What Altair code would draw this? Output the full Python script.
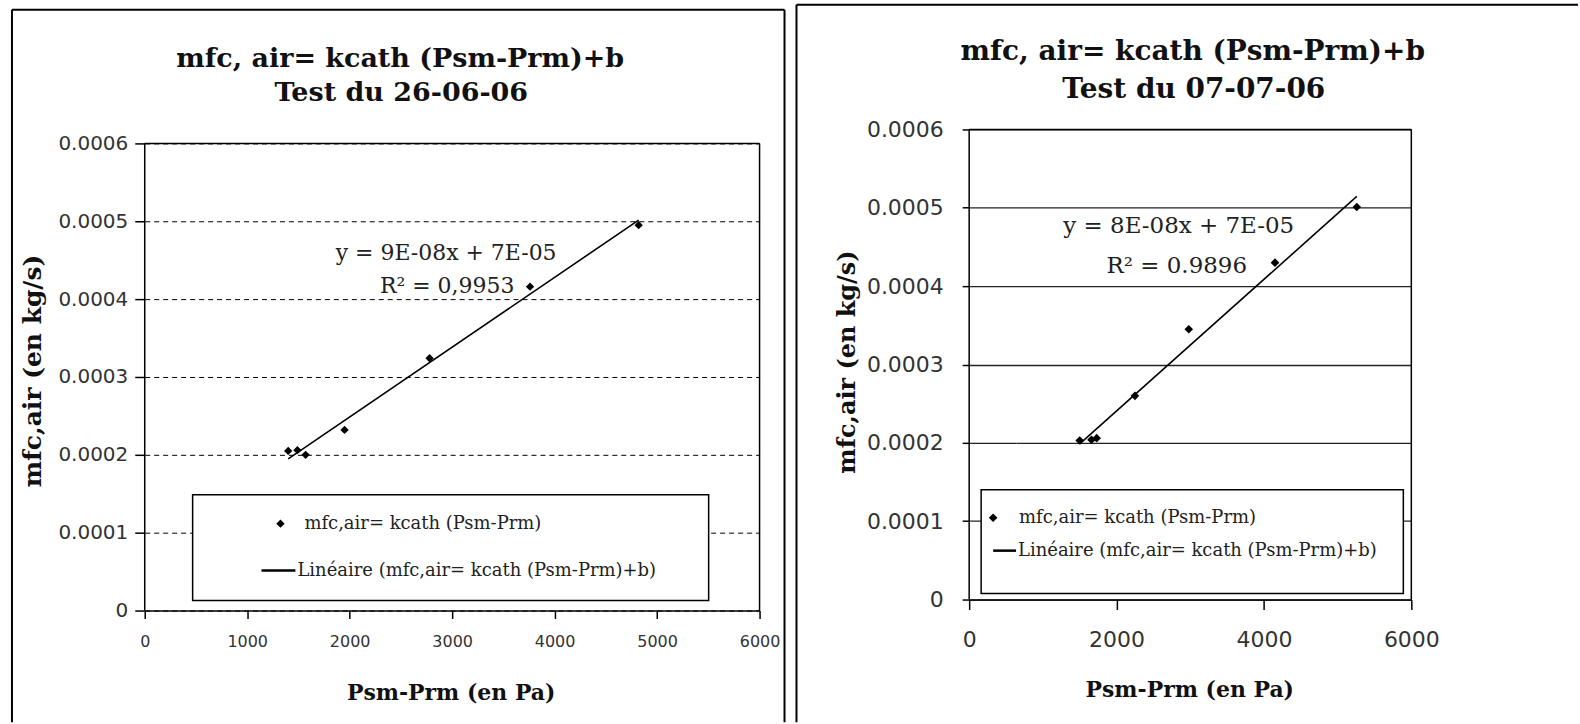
import altair as alt
import pandas as pd

# ---------------- data ----------------
left_dp = [1400, 1490, 1570, 1950, 2780, 3760, 4820]
left_mfc = [0.000205, 0.000206, 0.000200, 0.000232, 0.000324, 0.000416, 0.000495]

right_dp = [1500, 1660, 1730, 2250, 2980, 4150, 5260]
right_mfc = [0.000203, 0.000204, 0.000206, 0.000260, 0.000345, 0.000430, 0.000501]

title_line1 = "mfc, air= kcath (Psm-Prm)+b"
left_title2 = "Test du 26-06-06"
right_title2 = "Test du 07-07-06"
left_eq = "y = 9E-08x + 7E-05"
left_r2 = "R² = 0,9953"
right_eq = "y = 8E-08x + 7E-05"
right_r2 = "R² = 0.9896"
legend_points = "mfc,air= kcath (Psm-Prm)"
legend_line = "Linéaire (mfc,air= kcath (Psm-Prm)+b)"
x_title = "Psm-Prm (en Pa)"
y_title = "mfc,air (en kg/s)"

left_xticks = [0, 1000, 2000, 3000, 4000, 5000, 6000]
right_xticks = [0, 2000, 4000, 6000]
y_ticks = [0, 0.0001, 0.0002, 0.0003, 0.0004, 0.0005, 0.0006]
y_max = 0.0006

YLABEL = "datum.value == 0 ? '0' : format(datum.value, '.4f')"
SERIF = "DejaVu Serif"
SANS = "DejaVu Sans"


def panel(dp, mfc, xticks, g):
    df = pd.DataFrame({"dp": dp, "mfc": mfc})
    one = pd.DataFrame({"k": [0]})
    W, H, top = g["W"], g["H"], g["top"]
    ytop = y_max * H / (H - top)  # extra head-room above 0.0006 when the plot starts lower

    xenc = alt.X(
        "dp:Q",
        scale=alt.Scale(domain=[0, 6000], nice=False, zero=True),
        axis=alt.Axis(
            values=xticks, format="d", title=None, grid=False, domainColor="black", domainWidth=1.5,
            tickColor="black", tickWidth=1.5, tickSize=g["xtick"], labelFont=SANS,
            labelFontSize=g["xlab"], labelColor="#333", labelPadding=g["xpad"],
            labelFlush=False, labelOverlap=False,
        ),
    )
    yenc = alt.Y(
        "mfc:Q",
        scale=alt.Scale(domain=[0, ytop], nice=False),
        axis=alt.Axis(
            values=y_ticks, title=None, grid=True, gridColor=g["gridColor"],
            gridWidth=g["gridWidth"], gridDash=g["gridDash"], domain=False,
            tickColor="black", tickWidth=1.5, tickSize=g["ytick"],
            labelFont=SANS, labelFontSize=g["ylab"], labelColor="#333",
            labelPadding=g["ypad"], labelExpr=YLABEL, labelFlush=False, labelOverlap=False,
        ),
    )

    base = alt.Chart(df)
    pts = base.mark_point(shape="diamond", filled=True, color="black", size=g["psize"], opacity=1).encode(x=xenc, y=yenc)
    fit = base.transform_regression("dp", "mfc").mark_line(color="black", strokeWidth=1.6).encode(x=xenc, y=yenc)

    deco = alt.Chart(one)
    layers = [fit, pts]

    # plot-area border (top, left, right)
    layers.append(deco.mark_rule(color="black", strokeWidth=1.5).encode(
        x=alt.value(0), x2=alt.value(W), y=alt.value(top)))
    layers.append(deco.mark_rule(color="black", strokeWidth=1.5).encode(
        x=alt.value(0), y=alt.value(top), y2=alt.value(H)))
    layers.append(deco.mark_rule(color="black", strokeWidth=1.5).encode(
        x=alt.value(W), y=alt.value(top), y2=alt.value(H)))

    # frame of the panel
    for (x1, y1, y2) in g["frame_v"]:
        layers.append(deco.mark_rule(color="black", strokeWidth=2).encode(
            x=alt.value(x1), y=alt.value(y1), y2=alt.value(y2)))
    for (x1, x2, y1) in g["frame_h"]:
        layers.append(deco.mark_rule(color="black", strokeWidth=2).encode(
            x=alt.value(x1), x2=alt.value(x2), y=alt.value(y1)))

    # titles
    layers.append(deco.mark_text(font=SERIF, fontWeight="bold", fontSize=g["tsize"], color="#111").encode(
        x=alt.value(g["t1"][0]), y=alt.value(g["t1"][1]), text=alt.value(title_line1)))
    layers.append(deco.mark_text(font=SERIF, fontWeight="bold", fontSize=g["tsize"], color="#111").encode(
        x=alt.value(g["t2"][0]), y=alt.value(g["t2"][1]), text=alt.value(g["title2"])))

    # axis titles
    layers.append(deco.mark_text(font=SERIF, fontWeight="bold", fontSize=22, color="#111").encode(
        x=alt.value(g["xt"][0]), y=alt.value(g["xt"][1]), text=alt.value(x_title)))
    layers.append(deco.mark_text(font=SERIF, fontWeight="bold", fontSize=g["ytsize"], color="#111", angle=270).encode(
        x=alt.value(g["yt"][0]), y=alt.value(g["yt"][1]), text=alt.value(y_title)))

    # trendline annotation
    layers.append(deco.mark_text(font=SERIF, fontSize=g["asize"], color="#222").encode(
        x=alt.value(g["eq"][0]), y=alt.value(g["eq"][1]), text=alt.value(g["eqtext"])))
    layers.append(deco.mark_text(font=SERIF, fontSize=g["asize"], color="#222").encode(
        x=alt.value(g["r2"][0]), y=alt.value(g["r2"][1]), text=alt.value(g["r2text"])))

    # legend box
    lx1, lx2, ly1, ly2 = g["lbox"]
    layers.append(deco.mark_rect(fill="white", stroke="black", strokeWidth=1.5).encode(
        x=alt.value(lx1), x2=alt.value(lx2), y=alt.value(ly1), y2=alt.value(ly2)))
    layers.append(deco.mark_point(shape="diamond", filled=True, color="black", size=g["psize"], opacity=1).encode(
        x=alt.value(g["ldia"][0]), y=alt.value(g["ldia"][1])))
    layers.append(deco.mark_text(font=SERIF, fontSize=g["lsize"], color="#222", align="left").encode(
        x=alt.value(g["ltxt1"][0]), y=alt.value(g["ltxt1"][1]), text=alt.value(legend_points)))
    layers.append(deco.mark_rule(color="black", strokeWidth=2.5).encode(
        x=alt.value(g["lline"][0]), x2=alt.value(g["lline"][1]), y=alt.value(g["lline"][2])))
    layers.append(deco.mark_text(font=SERIF, fontSize=g["lsize"], color="#222", align="left").encode(
        x=alt.value(g["ltxt2"][0]), y=alt.value(g["ltxt2"][1]), text=alt.value(legend_line)))

    return alt.layer(*layers).properties(
        width=W, height=H, view=alt.ViewBackground(stroke="transparent"))


# left panel: view starts at y=128 like the right one; the plot frame itself starts 14 px lower
left_geom = dict(
    W=616, H=482, top=14, xtick=8, xlab=16, xpad=15, ytick=10, ylab=20, ypad=7,
    gridColor="black", gridWidth=1, gridDash=[5, 4], psize=70,
    frame_v=[(-133, -120, 594), (641, -120, 594)],
    frame_h=[(-133, 641, -120)],
    tsize=27, t1=(256, -71), t2=(257, -36), title2=left_title2,
    ytsize=25, xt=(307, 565), yt=(-112, 242),
    asize=22, eq=(302, 124), eqtext=left_eq, r2=(303, 157), r2text=left_r2,
    lbox=(48, 565, 366, 472), lsize=18, ldia=(136, 395), ltxt1=(160, 395),
    lline=(117, 151, 442), ltxt2=(153, 442),
)

right_geom = dict(
    W=443, H=471, top=0, xtick=10, xlab=22, xpad=20, ytick=7, ylab=22, ypad=19,
    gridColor="#222", gridWidth=1.3, gridDash=[1, 0], psize=75,
    frame_v=[(-173, -125, 594)],
    frame_h=[(-173, 610, -125)],
    tsize=28, t1=(224, -78), t2=(225, -40), title2=right_title2,
    ytsize=24, xt=(221, 562), yt=(-121, 233),
    asize=23, eq=(210, 97), eqtext=right_eq, r2=(208, 137), r2text=right_r2,
    lbox=(12, 435, 361, 465), lsize=18, ldia=(24, 389), ltxt1=(50, 389),
    lline=(24, 47, 422), ltxt2=(49, 422),
)

left = panel(left_dp, left_mfc, left_xticks, left_geom)
right = panel(right_dp, right_mfc, right_xticks, right_geom)

chart = alt.hconcat(left, right, spacing=8, bounds="full").properties(
    padding={"left": 10, "top": 2, "right": 0, "bottom": 0},
    background="white",
).configure_view(stroke="transparent")

chart.save("out.html", embed_options={"renderer": "svg", "actions": False})
